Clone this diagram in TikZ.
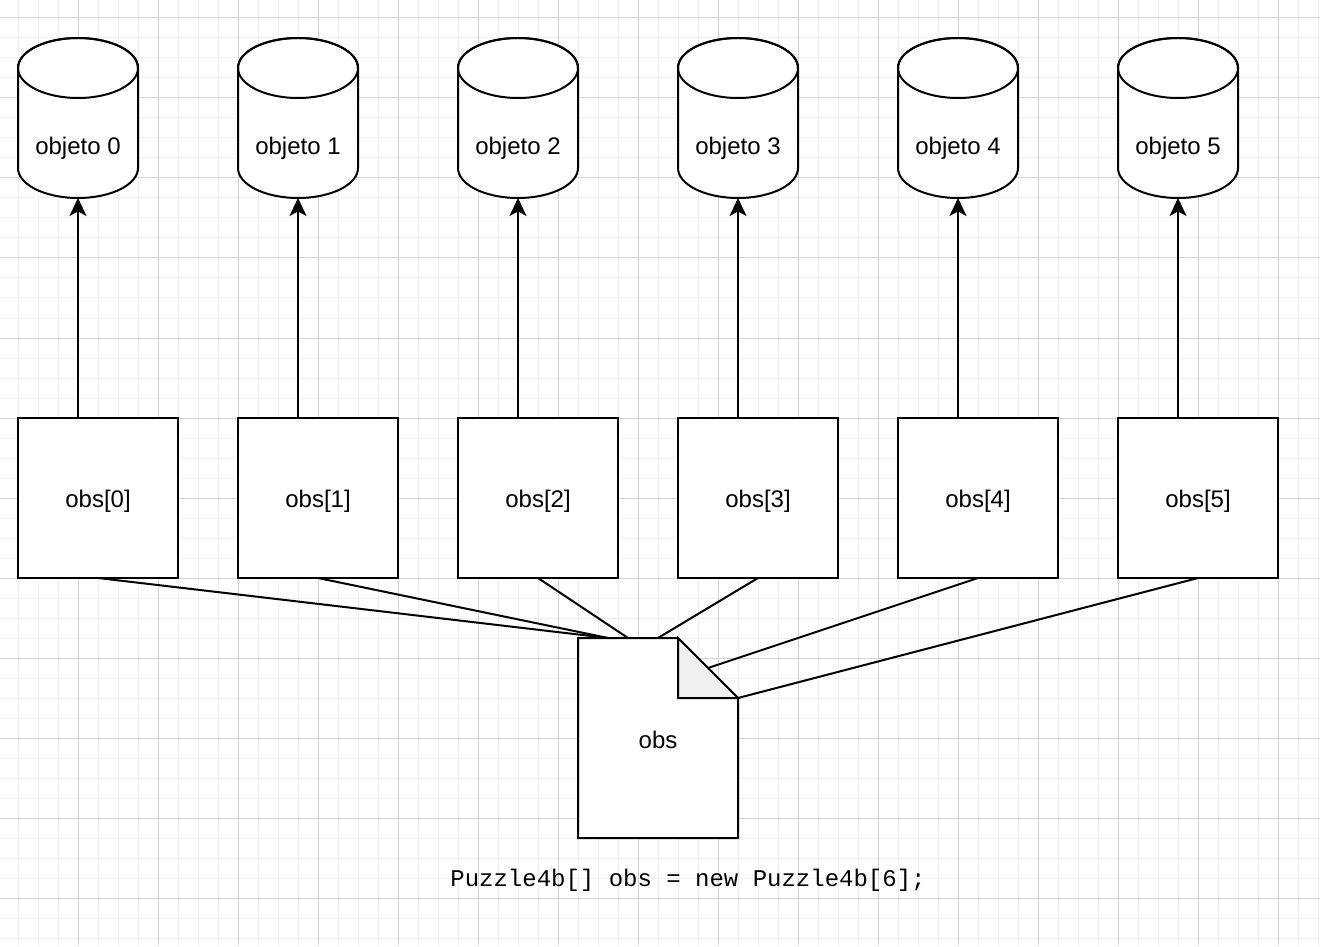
\documentclass[tikz,border=0pt]{standalone}
\usepackage{fontspec}
\setmainfont{Liberation Sans}
\newfontfamily\codefont{Liberation Mono}
\usetikzlibrary{arrows.meta,calc}
\definecolor{gridminor}{HTML}{F0F0F0}
\definecolor{gridmajor}{HTML}{D3D3D3}
\definecolor{foldgray}{HTML}{F0F0F0}
\begin{document}
\begin{tikzpicture}[x=0.5pt,y=-0.5pt,
  minorline/.style={draw=gridminor,line width=0.5pt},
  majorline/.style={draw=gridmajor,line width=0.5pt},
  shapeline/.style={draw=black,line width=1pt,line join=miter},
  labelfont/.style={font=\fontsize{12}{14}\selectfont},
  slotbox/.style={draw=black,line width=1pt,fill=white,minimum width=80pt,minimum height=80pt,inner sep=0pt,outer sep=0pt,labelfont,text height=11.8pt,text depth=2.5pt},
  cylbody/.style={minimum width=60pt,minimum height=50pt,inner sep=0pt,outer sep=0pt,labelfont},
  docframe/.style={minimum width=80pt,minimum height=100pt,inner sep=0pt,outer sep=0pt,labelfont,text height=10.8pt,text depth=0pt},
  ref/.style={draw=black,line width=1pt,-{Stealth[length=9pt,width=8.5pt,inset=2.3pt]}},
  link/.style={draw=black,line width=1pt},
]
\useasboundingbox (0,0) rectangle (1320,946);
\fill[white] (0,0) rectangle (1320,946);

% background grid
\foreach \g in {-2,18,...,1320} {\draw[minorline] (\g,0) -- (\g,946);}
\foreach \g in {-2,18,...,946} {\draw[minorline] (0,\g) -- (1320,\g);}
\foreach \g in {78,158,...,1320} {\draw[majorline] (\g,0) -- (\g,946);}
\foreach \g in {18,98,...,946} {\draw[majorline] (0,\g) -- (1320,\g);}

% objects (cylinders) and array slots
\foreach \i in {0,...,5} {
  \pgfmathsetmacro\cx{78+220*\i}
  \draw[shapeline,fill=white] (\cx-60,68) -- (\cx-60,168)
     arc[start angle=180,end angle=360,x radius=30pt,y radius=15pt]
     -- (\cx+60,68)
     arc[start angle=0,end angle=180,x radius=30pt,y radius=15pt] -- cycle;
  \draw[shapeline] (\cx,68) ellipse[x radius=30pt,y radius=15pt];
  \node[cylbody] (c\i) at (\cx,148) {objeto \i};
  \node[slotbox] (b\i) at (\cx+20,498) {obs[\i]};
}

% references from slots to objects
\foreach \i in {0,...,5} {
  \draw[ref] (c\i.south |- b\i.north) -- (c\i.south);
}

% the array itself (document with folded corner)
\draw[shapeline,fill=white] (578,638) -- (678,638) -- (738,698) -- (738,838) -- (578,838) -- cycle;
\draw[shapeline,fill=foldgray] (678,638) -- (678,698) -- (738,698) -- cycle;
\node[docframe] (doc) at (658,738) {obs};

% slots belonging to the array
\draw[link] (b0.south) -- ($(doc.north west)+(30,0)$);
\draw[link] (b1.south) -- ($(doc.north west)+(30,0)$);
\draw[link] (b2.south) -- ($(doc.north west)+(50,0)$);
\draw[link] (b3.south) -- (doc.north);
\draw[link] (b4.south) -- ($(doc.north east)+(-30,30)$);
\draw[link] (b5.south) -- ($(doc.north east)+(0,60)$);

\node[font=\codefont\fontsize{12}{14}\selectfont,anchor=base] (code) at (688,886) {Puzzle4b[] obs = new Puzzle4b[6];};
\end{tikzpicture}
\end{document}
